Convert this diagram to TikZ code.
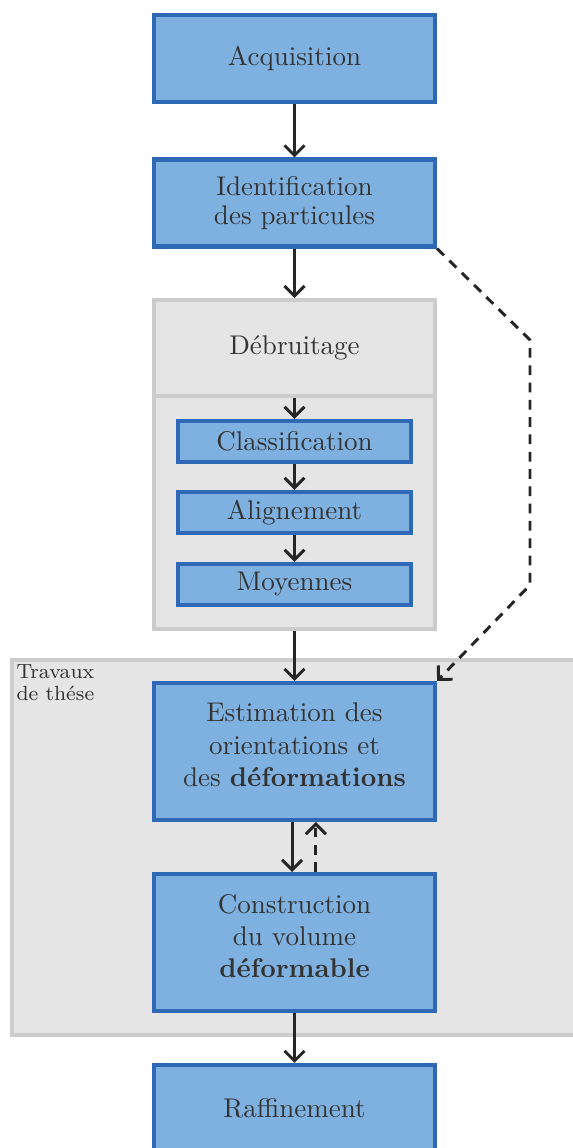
\documentclass[tikz,border=0pt]{standalone}
\usepackage{amsmath, amssymb}
\usepackage{xcolor}
\usepackage{tikz}
\usetikzlibrary{arrows.meta}

\definecolor{boxblue}{HTML}{2F68B5}
\definecolor{boxfill}{HTML}{7FB1E0}
\definecolor{zonegray}{HTML}{E5E5E5}
\definecolor{zoneline}{HTML}{CCCCCC}
\definecolor{textgray}{HTML}{333333}

\begin{document}
\begin{tikzpicture}[
            x=0.37pt, y=-0.37pt,
            every node/.style={align=center, text=textgray, inner sep=0pt},
            stage/.style={draw=boxblue, fill=boxfill, line width=1.5pt, minimum width=104pt, minimum height=32.2pt},
            bigstage/.style={stage, minimum height=50.7pt, text depth=4.8pt},
            substage/.style={draw=boxblue, fill=boxfill, line width=1.5pt, minimum width=86.2pt, minimum height=15.2pt},
            zone/.style={draw=zoneline, fill=zonegray, line width=1.5pt},
            flow/.style={-{Straight Barb[length=3.7pt, width=7.4pt]}, line width=1.1pt, draw=black!85},
            feedback/.style={flow, dash pattern=on 3.6pt off 2.8pt}
        ]
        \useasboundingbox (0,0) rectangle (572,1148);
        % Zone: travaux de these
        \draw[zone] (12,660) rectangle (600,1035);
        \node[anchor=north west, align=left, font=\fontsize{7.6}{8.2}\selectfont] (travaux) at (16,664) {Travaux\\de thése};
        % Main stages
        \node[stage] (acq) at (294.5,58.5) {Acquisition};
        \node[stage] (ident) at (294.5,203) {Identification\\[-1.2pt]des particules};
        % Debruitage block
        \node[zone, minimum width=104pt, minimum height=35.5pt] (debruit) at (294.5,348) {Débruitage};
        \node[zone, minimum width=104pt, minimum height=86.2pt] (debruitbas) at (294.5,512.5) {};
        \node[substage] (classif) at (294.5,441.5) {Classification};
        \node[substage] (align) at (294.5,512.5) {Alignement};
        \node[substage] (moy) at (294.5,584.5) {Moyennes};
        % Thesis stages
        \node[bigstage] (estim) at (294.5,751.5) {Estimation des\\orientations et\\des \textbf{déformations}};
        \node[bigstage] (constr) at (294.5,942.5) {Construction\\du volume\\\textbf{déformable}};
        \node[stage] (raff) at (294.5,1108.5) {Raffinement};
        % Connectors
        \draw[flow] (acq) -- (ident);
        \draw[flow] (ident) -- (debruit);
        \draw[flow] (debruit.south) -- (classif);
        \draw[flow] (classif) -- (align);
        \draw[flow] (align) -- (moy);
        \draw[flow] (debruitbas) -- (estim);
        \draw[flow] ([xshift=-0.9pt]estim.south) -- ([xshift=-0.9pt]constr.north);
        \draw[feedback] ([xshift=7.9pt]constr.north) -- ([xshift=7.9pt]estim.south);
        \draw[flow] (constr) -- (raff);
        % Dashed shortcut
        \coordinate (shorttop) at (530,340);
        \coordinate (shortbot) at (530,585);
        \draw[feedback] (ident.south east) -- (shorttop) -- (shortbot) -- (estim.north east);
    \end{tikzpicture}
\end{document}
